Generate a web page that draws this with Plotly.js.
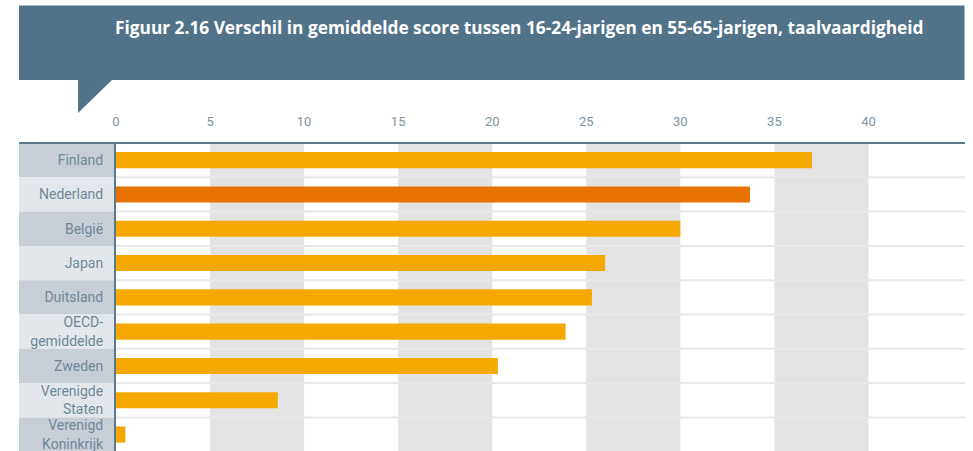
<!DOCTYPE html>
<html>
<head>
<meta charset="utf-8">
<script src="https://cdn.plot.ly/plotly-3.0.1.min.js"></script>
<style>html,body{margin:0;padding:0;background:#fff;}#chart{width:973px;height:451px;}</style>
</head>
<body>
<div id="chart"></div>
<script>
const titleText = "Figuur 2.16 Verschil in gemiddelde score tussen 16-24-jarigen en 55-65-jarigen, taalvaardigheid";
const categories = ["Finland", "Nederland", "België", "Japan", "Duitsland", "OECD-<br>gemiddelde", "Zweden", "Verenigde<br>Staten", "Verenigd<br>Koninkrijk"];
const values = [37.0, 33.7, 30.0, 26.0, 25.3, 23.9, 20.3, 8.6, 0.5];
const highlight = "Nederland";
const tickValues = [0, 5, 10, 15, 20, 25, 30, 35, 40];
const bandStarts = [5, 15, 25, 35];

const W = 973, H = 451;
const ML = 19, MR = 8, MT = 143, MB = 0;
const plotW = W - ML - MR, plotH = H - MT - MB;
const px2paperX = p => (p - ML) / plotW;
const px2paperY = p => (H - MB - p) / plotH;

const slate = "#51738a";
const axisCol = "#5b7a8e";
const orange = "#f5a800";
const darkOrange = "#e87200";
const labelCol = "#6f8898";
const fontFam = "Roboto, 'Open Sans', sans-serif";

const colors = categories.map(c => c === highlight ? darkOrange : orange);

const shapes = [];
bandStarts.forEach(s => shapes.push({type:"rect", xref:"x", yref:"paper", x0:s, x1:s+5, y0:0, y1:1, fillcolor:"#e3e3e3", line:{width:0}, layer:"below"}));
for (let i = 0; i < categories.length - 1; i++) {
  shapes.push({type:"line", xref:"x", yref:"y", x0:0, x1:100, y0:i+0.5, y1:i+0.5, line:{color:"#e8e8e8", width:2}, layer:"below"});
}
categories.forEach((c, i) => shapes.push({type:"rect", xref:"paper", yref:"y", x0:0, x1:px2paperX(114.5), y0:i-0.5, y1:i+0.5, fillcolor: i % 2 === 0 ? "#c8ced6" : "#e3e7eb", line:{width:0}, layer:"below"}));
shapes.push({type:"line", xref:"paper", yref:"paper", x0:0, x1:1, y0:1, y1:1, line:{color:axisCol, width:2}});
const bx0 = 0, bx1 = px2paperX(964.5), by0 = px2paperY(80), by1 = px2paperY(5.5);
const tx0 = px2paperX(78), tx1 = px2paperX(112), ty = px2paperY(113);
shapes.push({type:"path", xref:"paper", yref:"paper",
  path:`M ${bx0} ${by1} L ${bx1} ${by1} L ${bx1} ${by0} L ${tx1} ${by0} L ${tx0} ${ty} L ${tx0} ${by0} L ${bx0} ${by0} Z`,
  fillcolor:slate, line:{width:0}});

const trace = {
  type:"bar", orientation:"h",
  y: categories, x: values,
  marker:{color: colors, line:{width:0}},
  width: 0.47,
  hoverinfo:"x+y"
};

const layout = {
  width: W, height: H,
  margin:{l:ML, r:MR, t:MT, b:MB, pad:0},
  paper_bgcolor:"#fff", plot_bgcolor:"rgba(0,0,0,0)",
  showlegend:false,
  title:{text:titleText, xref:"container", yref:"container", x:115/W, xanchor:"left", y:1-28/H, yanchor:"middle",
    font:{family:"'Open Sans', Roboto, sans-serif", size:17.3, color:"#ffffff", weight:"bold"}},
  xaxis:{side:"top", domain:[px2paperX(116), 1], range:[0, (964.5-116)/18.8], tickvals:tickValues, ticktext:tickValues.map(String),
    showgrid:false, zeroline:false, showline:false, ticks:"outside", ticklen:11, tickcolor:"rgba(0,0,0,0)",
    tickfont:{family:fontFam, size:13, color:"#7d93a2"}, fixedrange:true},
  yaxis:{type:"category", range:[8.48, -0.5], showgrid:false, zeroline:false, showline:true, linecolor:axisCol, linewidth:2,
    ticks:"outside", ticklen:8, tickcolor:"rgba(0,0,0,0)", tickfont:{family:fontFam, size:14, color:labelCol}, fixedrange:true},
  shapes: shapes,
  bargap:0.5
};

Plotly.newPlot("chart", [trace], layout, {displayModeBar:false, staticPlot:true});
</script>
</body>
</html>
